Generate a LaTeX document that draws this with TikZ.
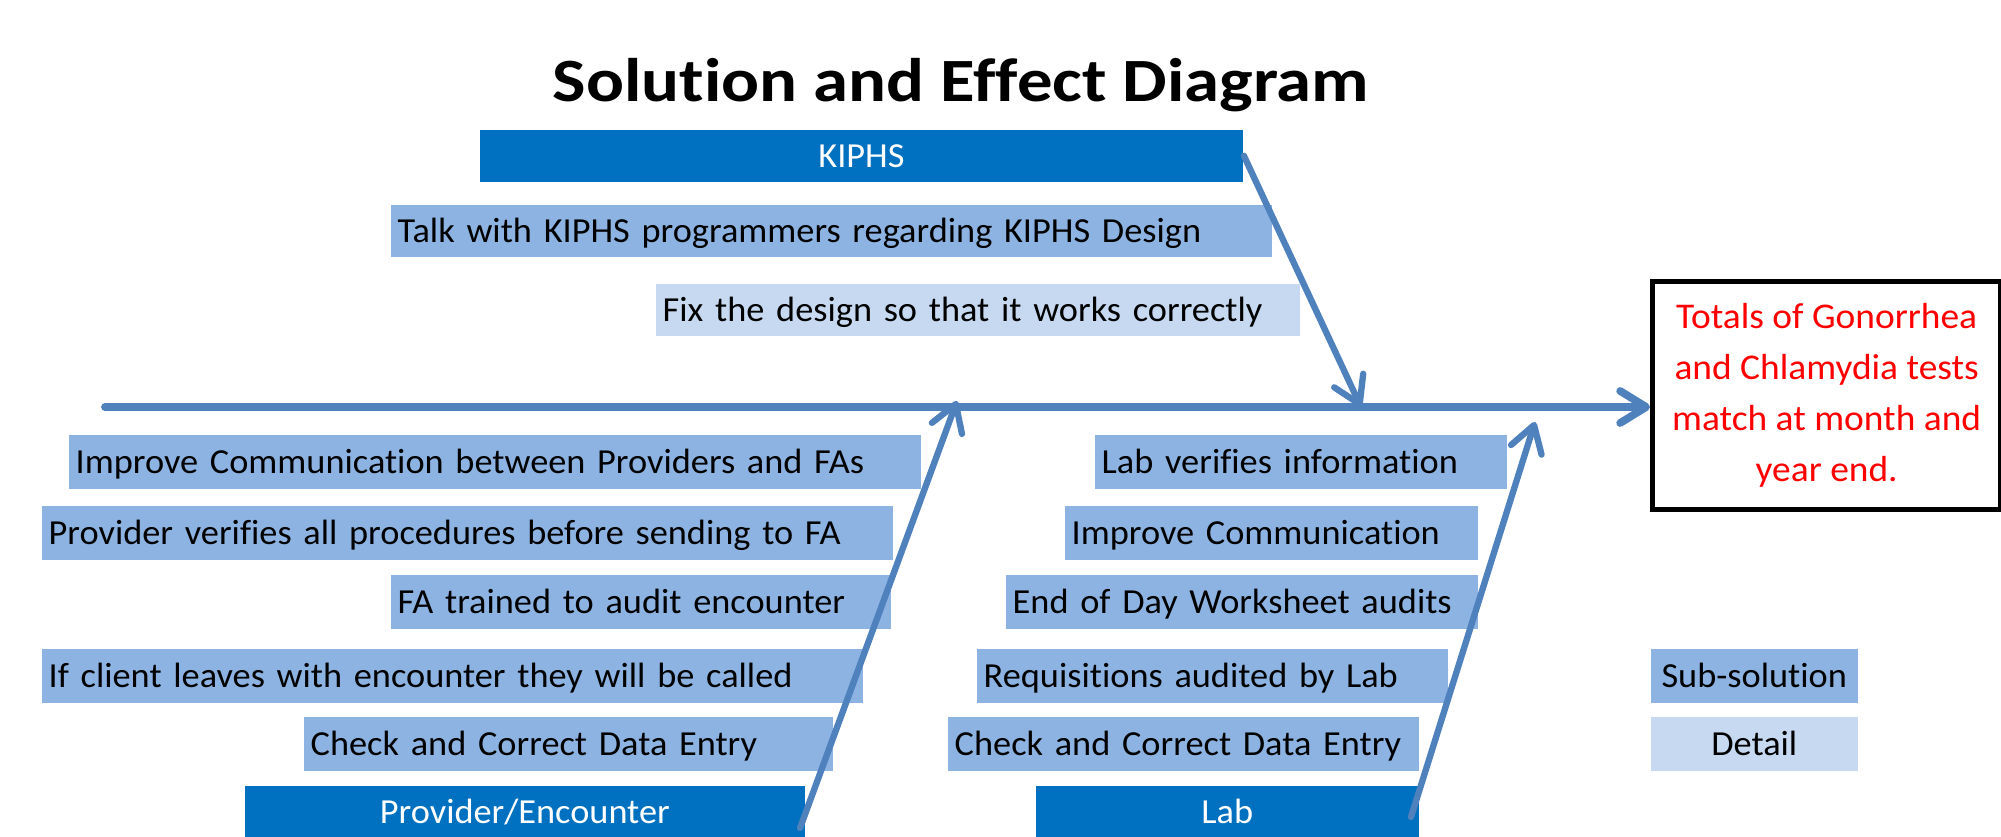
\documentclass[tikz,border=0pt]{standalone}
\usepackage{fontspec}
\setmainfont{Carlito}[Ligatures=NoCommon, FakeStretch=1.033]
\newfontfamily\titlefont{Carlito}[Ligatures=NoCommon, FakeStretch=1.15]
\usetikzlibrary{arrows.meta}

\definecolor{headblue}{HTML}{0070C0}
\definecolor{subblue}{HTML}{8DB3E2}
\definecolor{detailblue}{HTML}{C6D9F1}
\definecolor{bonecol}{HTML}{4F81BD}
\definecolor{effectred}{HTML}{FF0000}

\begin{document}
\begin{tikzpicture}[x=0.01cm,y=-0.01cm,
  boxtext/.style={font=\fontsize{10}{12}\selectfont, text height=6.44pt, text depth=0pt},
  anybox/.style={boxtext, anchor=north west, inner ysep=0pt, inner xsep=0.07cm,
                 minimum height=0.54cm, rectangle},
  headbox/.style={anybox, fill=headblue, text=white, align=center, minimum height=0.52cm},
  subbox/.style={anybox, fill=subblue, text=black, align=left},
  detailbox/.style={anybox, fill=detailblue, text=black, align=left},
  legendbox/.style={anybox, text=black, align=center},
  bone/.style={draw=bonecol, line width=2.2pt, line cap=round,
               -{Straight Barb[length=2.6mm,width=3.2mm,round]}},
  rib/.style={bone, line width=1.8pt},
]
\useasboundingbox (0,0) rectangle (2001,837);

% title
\node[font=\titlefont\bfseries\fontsize{17.5}{20}\selectfont, anchor=base, inner sep=0pt]
  (title) at (961,102) {Solution and Effect Diagram};

% KIPHS branch (above the spine)
\node[headbox, text width=7.49cm, minimum height=0.52cm] (kiphs) at (479,129) {KIPHS};
\node[subbox, text width=8.67cm, minimum height=0.52cm] (talk) at (390,204)
  {Talk with KIPHS programmers regarding KIPHS Design};
\node[detailbox, text width=6.30cm, minimum height=0.52cm] (fix) at (655,283)
  {Fix the design so that it works correctly};

% Provider/Encounter branch
\node[subbox, text width=8.38cm] (pimp) at (68,434)
  {Improve Communication between Providers and FAs};
\node[subbox, text width=8.37cm] (pver) at (41,505)
  {Provider verifies all procedures before sending to FA};
\node[subbox, text width=4.86cm] (pfa) at (390,574)
  {FA trained to audit encounter};
\node[subbox, text width=8.07cm] (pcli) at (41,648)
  {If client leaves with encounter they will be called};
\node[subbox, text width=5.15cm] (pchk) at (303,716)
  {Check and Correct Data Entry};
\node[headbox, text width=5.46cm] (prov) at (244,785) {Provider/Encounter};

% Lab branch
\node[subbox, text width=3.98cm] (lver) at (1094,434) {Lab verifies information};
\node[subbox, text width=3.99cm] (lcom) at (1064,505) {Improve Communication};
\node[subbox, text width=4.58cm] (leod) at (1005,574) {End of Day Worksheet audits};
\node[subbox, text width=4.57cm] (lreq) at (976,648) {Requisitions audited by Lab};
\node[subbox, text width=4.57cm] (lchk) at (947,716) {Check and Correct Data Entry};
\node[headbox, text width=3.69cm] (lab) at (1035,785) {Lab};

% legend
\node[legendbox, fill=subblue, text width=1.93cm] (legsub) at (1650,648) {Sub-solution};
\node[legendbox, fill=detailblue, text width=1.93cm] (legdet) at (1650,716) {Detail};

% effect
\node[draw=black, line width=1.45pt, anchor=north west, minimum width=3.48cm,
      minimum height=2.28cm, inner sep=0pt, text=effectred, align=center,
      font=\fontsize{10.3}{14.5}\selectfont] (effect) at (1650,279)
  {Totals of Gonorrhea\\and Chlamydia tests\\match at month and\\year end.};

% spine and bones
\coordinate (spineS) at (105,407);
\coordinate (kiphsE) at (1361,407);
\coordinate (provS) at (800,828);
\coordinate (provE) at (957,401);
\coordinate (labS) at (1411,817);
\coordinate (labE) at (1535,422);

\draw[bone] (spineS) -- (spineS -| effect.west);
\draw[rib] (kiphs.east) -- (kiphsE);
\draw[rib] (provS) -- (provE);
\draw[rib] (labS) -- (labE);
\end{tikzpicture}
\end{document}
